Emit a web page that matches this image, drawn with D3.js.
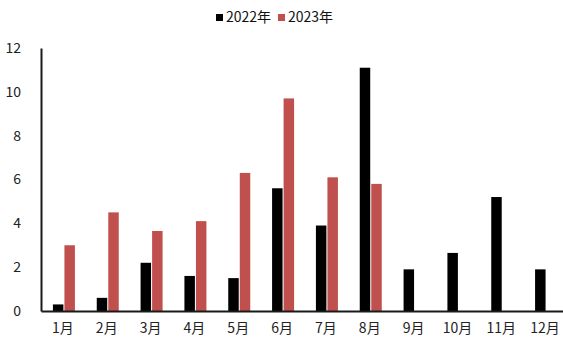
<!DOCTYPE html>
<html>
<head>
<meta charset="utf-8">
<script src="https://cdn.jsdelivr.net/npm/d3@7"></script>
<style>
  html, body { margin: 0; padding: 0; background: #fff; }
  text { font-family: "Liberation Sans Narrow", "Noto Sans CJK SC", sans-serif; }
</style>
</head>
<body>
<svg id="chart" width="563" height="338"></svg>
<script>
const months = ["1月","2月","3月","4月","5月","6月","7月","8月","9月","10月","11月","12月"];
const values2022 = [0.3, 0.6, 2.2, 1.6, 1.5, 5.6, 3.9, 11.1, 1.9, 2.65, 5.2, 1.9];
const values2023 = [3.0, 4.5, 3.65, 4.1, 6.3, 9.7, 6.1, 5.8, null, null, null, null];
const seriesNames = ["2022年", "2023年"];
const seriesColors = ["#000000", "#c0504d"];
const yTicks = [0, 2, 4, 6, 8, 10, 12];

const svg = d3.select("#chart");
const fontStack = "'Liberation Sans Narrow', 'Noto Sans CJK SC', sans-serif";
const plotLeft = 41, plotRight = 567, plotTop = 48, plotBottom = 311;

const x = d3.scaleBand().domain(months).range([plotLeft, plotRight]).paddingInner(0).paddingOuter(0);
const y = d3.scaleLinear().domain([0, 12]).range([plotBottom, plotTop]);
const xs = d3.scaleBand().domain(seriesNames).range([0, 22]).paddingInner(0.09);

const rows = months.map((m, i) => ({ m, vals: [values2022[i], values2023[i]] }));

const groups = svg.append("g").selectAll("g").data(rows).join("g")
  .attr("transform", d => `translate(${x(d.m) + x.bandwidth() / 2 - 10},0)`);

groups.selectAll("rect")
  .data(d => d.vals.map((v, k) => ({ v, k })).filter(e => e.v != null))
  .join("rect")
  .attr("x", e => xs(seriesNames[e.k]))
  .attr("width", xs.bandwidth())
  .attr("y", e => y(e.v))
  .attr("height", e => y(0) - y(e.v))
  .attr("fill", e => seriesColors[e.k]);

// y axis
const yAxis = svg.append("g").attr("transform", `translate(${plotLeft},0)`)
  .call(d3.axisLeft(y).tickValues(yTicks).tickSize(0).tickPadding(20));
yAxis.select(".domain").attr("stroke", "#1a1a1a").attr("stroke-width", 2);
yAxis.selectAll("text").attr("font-size", 14).attr("fill", "#222").attr("font-family", fontStack);

// x axis
const xAxis = svg.append("g").attr("transform", `translate(0,${plotBottom})`)
  .call(d3.axisBottom(x).tickSize(0).tickPadding(12));
xAxis.select(".domain").attr("stroke", "#1a1a1a").attr("stroke-width", 2);
xAxis.selectAll("text").attr("font-size", 14).attr("fill", "#222").attr("font-family", fontStack);

// legend
const legend = svg.append("g");
const legendX = [216, 278];
seriesNames.forEach((name, k) => {
  const g = legend.append("g").attr("transform", `translate(${legendX[k]},17)`);
  g.append("rect").attr("x", 0).attr("y", -3).attr("width", 7).attr("height", 7).attr("fill", seriesColors[k]);
  g.append("text").attr("x", 10).attr("y", 0).attr("dy", "0.35em")
    .attr("font-size", 14).attr("fill", "#111").attr("font-family", fontStack).text(name);
});
</script>
</body>
</html>
